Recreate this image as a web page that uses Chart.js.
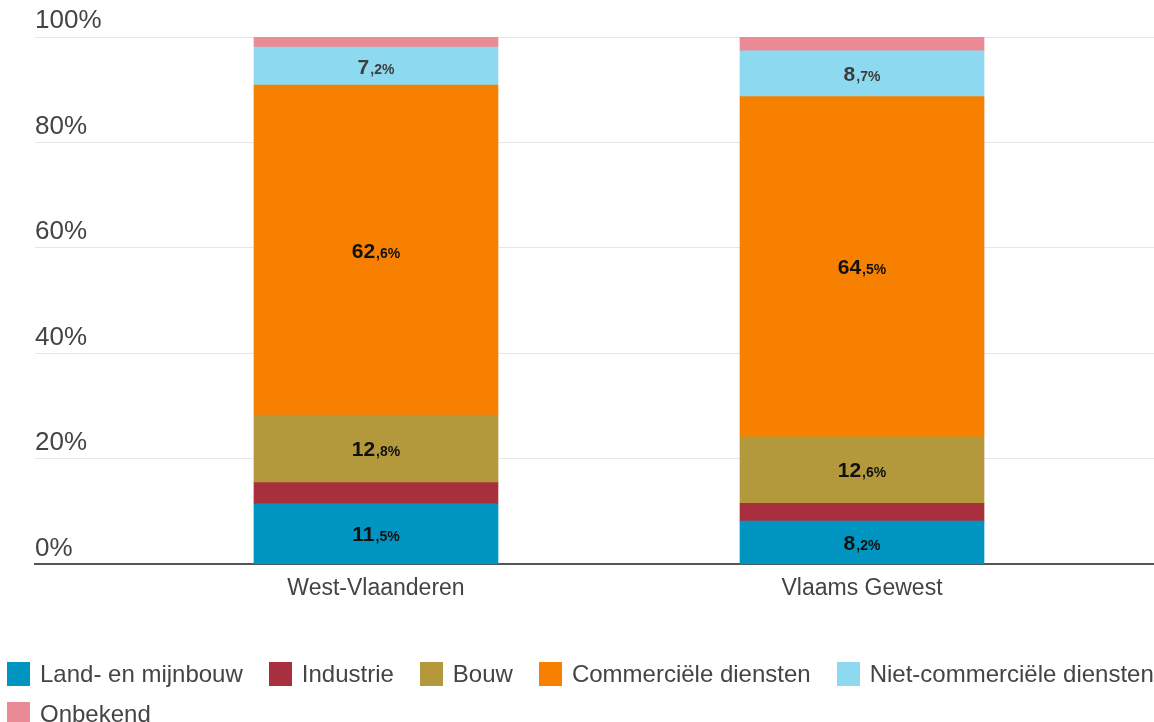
<!DOCTYPE html>
<html>
<head>
<meta charset="utf-8">
<script src="https://cdn.jsdelivr.net/npm/chart.js@4/dist/chart.umd.min.js"></script>
<style>
  html, body { margin: 0; padding: 0; background: #fff; }
  #wrap { position: relative; width: 1154px; height: 722px; overflow: hidden; }
  #legend { position: absolute; left: 7px; top: 660px; width: 1300px; font-family: "Liberation Sans", Arial, sans-serif; font-size: 24px; color: #444; }
  .row { display: flex; white-space: nowrap; height: 40px; align-items: flex-start; }
  .item { display: flex; align-items: center; margin-right: 26px; }
  .box { width: 23px; height: 24px; margin-right: 10px; }
</style>
</head>
<body>
<div id="wrap">
  <canvas id="sectorChart" width="1154" height="722"></canvas>
  <div id="legend"></div>
</div>
<script>
// Categories (regions) and sector shares in %
const regions = ['West-Vlaanderen', 'Vlaams Gewest'];
const sectors = ['Land- en mijnbouw', 'Industrie', 'Bouw', 'Commerciële diensten', 'Niet-commerciële diensten', 'Onbekend'];
const landbouw = [11.5, 8.2];
const industrie = [4.0, 3.4];
const bouw = [12.8, 12.6];
const commercieel = [62.6, 64.5];
const nietCommercieel = [7.2, 8.7];
const onbekend = [1.9, 2.6];
const yTicks = [0, 20, 40, 60, 80, 100];

const sectorColors = ['#0095c1', '#a8303e', '#b4993c', '#f88000', '#8dd9ef', '#ea8a95'];
const seriesValues = [landbouw, industrie, bouw, commercieel, nietCommercieel, onbekend];
const FONT = '"Liberation Sans", Arial, sans-serif';

// Draw value labels with a big integer part and a smaller decimal part
const valueLabels = {
  id: 'valueLabels',
  afterDatasetsDraw(chart) {
    const ctx = chart.ctx;
    ctx.save();
    ctx.textBaseline = 'alphabetic';
    chart.data.datasets.forEach((ds, di) => {
      const meta = chart.getDatasetMeta(di);
      meta.data.forEach((bar, i) => {
        const v = ds.data[i].y;
        if (v < 5) return;
        const parts = v.toFixed(1).split('.');
        const big = parts[0];
        const small = ',' + parts[1] + '%';
        ctx.font = 'bold 21px ' + FONT;
        const wBig = ctx.measureText(big).width;
        ctx.font = 'bold 14px ' + FONT;
        const wSmall = ctx.measureText(small).width;
        const x0 = bar.x - (wBig + wSmall + 1) / 2;
        const yMid = (bar.y + bar.base) / 2;
        const baseY = yMid + 7.5;
        ctx.fillStyle = di === 4 ? '#3d3d3d' : '#111';
        ctx.font = 'bold 21px ' + FONT;
        ctx.fillText(big, x0, baseY);
        ctx.font = 'bold 14px ' + FONT;
        ctx.fillText(small, x0 + wBig + 1, baseY);
      });
    });
    ctx.restore();
  }
};

const datasets = sectors.map((name, s) => ({
  label: name,
  data: seriesValues[s].map((v, i) => ({ x: i, y: v })),
  backgroundColor: sectorColors[s],
  borderWidth: 0,
  barThickness: 244
}));

new Chart(document.getElementById('sectorChart'), {
  type: 'bar',
  data: { datasets: datasets },
  plugins: [valueLabels],
  options: {
    responsive: false,
    animation: false,
    layout: { padding: { top: 37, left: 35, right: 0, bottom: 110 } },
    plugins: { legend: { display: false }, tooltip: { enabled: false } },
    scales: {
      x: {
        type: 'linear',
        stacked: true,
        offset: false,
        min: -0.7016,
        max: 1.6008,
        afterBuildTicks: (scale) => { scale.ticks = regions.map((r, i) => ({ value: i })); },
        ticks: {
          autoSkip: false,
          maxRotation: 0,
          padding: 10,
          color: '#444',
          font: { family: FONT, size: 23 },
          callback: (v) => regions[v]
        },
        grid: { display: false, drawTicks: false },
        border: { display: true, color: '#555', width: 2 }
      },
      y: {
        stacked: true,
        min: 0,
        max: 100,
        afterBuildTicks: (scale) => { scale.ticks = yTicks.map(v => ({ value: v })); },
        ticks: {
          mirror: true,
          padding: 0,
          labelOffset: -16,
          color: '#444',
          font: { family: FONT, size: 26 },
          callback: (v) => v + '%'
        },
        grid: { color: '#e6e6e6', lineWidth: 1, drawTicks: false },
        border: { display: false }
      }
    }
  }
});

// HTML legend: first row overflows to the right, like the original
const legend = document.getElementById('legend');
const rows = [sectors.slice(0, 5), sectors.slice(5)];
let idx = 0;
rows.forEach(names => {
  const row = document.createElement('div');
  row.className = 'row';
  names.forEach(name => {
    const item = document.createElement('div');
    item.className = 'item';
    const box = document.createElement('span');
    box.className = 'box';
    box.style.background = sectorColors[idx++];
    const txt = document.createElement('span');
    txt.textContent = name;
    item.appendChild(box);
    item.appendChild(txt);
    row.appendChild(item);
  });
  legend.appendChild(row);
});
</script>
</body>
</html>
